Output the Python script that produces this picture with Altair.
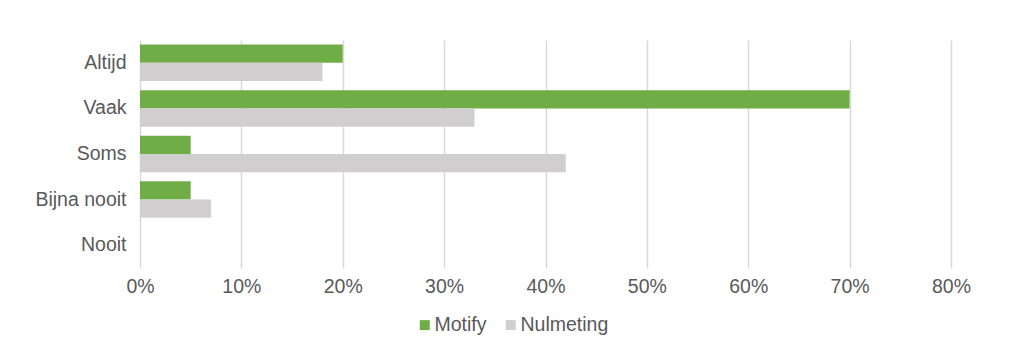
import altair as alt
import pandas as pd

categories = ["Altijd", "Vaak", "Soms", "Bijna nooit", "Nooit"]
series = ["Motify", "Nulmeting"]
motify = [0.20, 0.70, 0.05, 0.05, 0.0]
nulmeting = [0.18, 0.33, 0.42, 0.07, 0.0]
colors = ["#70AD47", "#D0CECE"]

rows = []
for c, m, n in zip(categories, motify, nulmeting):
    rows.append({"cat": c, "series": "Motify", "value": m})
    rows.append({"cat": c, "series": "Nulmeting", "value": n})
df = pd.DataFrame(rows)

FONT = "Liberation Sans"
FS = 19.5

chart = alt.Chart(df).mark_bar().encode(
    y=alt.Y("cat:N", sort=categories, title=None,
            scale=alt.Scale(paddingInner=0.2, paddingOuter=0.1),
            axis=alt.Axis(domain=False, ticks=False, labelPadding=14,
                          labelFontSize=FS, labelColor="#595959", labelFont=FONT, grid=False)),
    yOffset=alt.YOffset("series:N", sort=series),
    x=alt.X("value:Q", title=None,
            scale=alt.Scale(domain=[0, 0.8], nice=False),
            axis=alt.Axis(format=".0%", values=[0, 0.1, 0.2, 0.3, 0.4, 0.5, 0.6, 0.7, 0.8],
                          domain=False, ticks=False, labelPadding=9, labelFlush=False,
                          labelFontSize=FS, labelColor="#595959", labelFont=FONT,
                          grid=True, gridColor="#D9D9D9", gridWidth=1.5)),
    color=alt.Color("series:N", sort=series,
                    scale=alt.Scale(domain=series, range=colors),
                    legend=alt.Legend(title=None, orient="none", direction="horizontal",
                                      legendX=275, legendY=275,
                                      symbolType="square", symbolSize=100, symbolStrokeWidth=0,
                                      labelFontSize=FS, labelColor="#595959", labelFont=FONT,
                                      columnPadding=14, symbolOffset=0,
                                      labelOffset=0)),
).properties(
    width=811, height=228,
    autosize=alt.AutoSizeParams(type="none"),
    padding={"left": 132, "top": 32, "right": 74, "bottom": 80},
).configure_view(stroke=None)

chart.save("out.html", embed_options={"renderer": "svg", "actions": False})
